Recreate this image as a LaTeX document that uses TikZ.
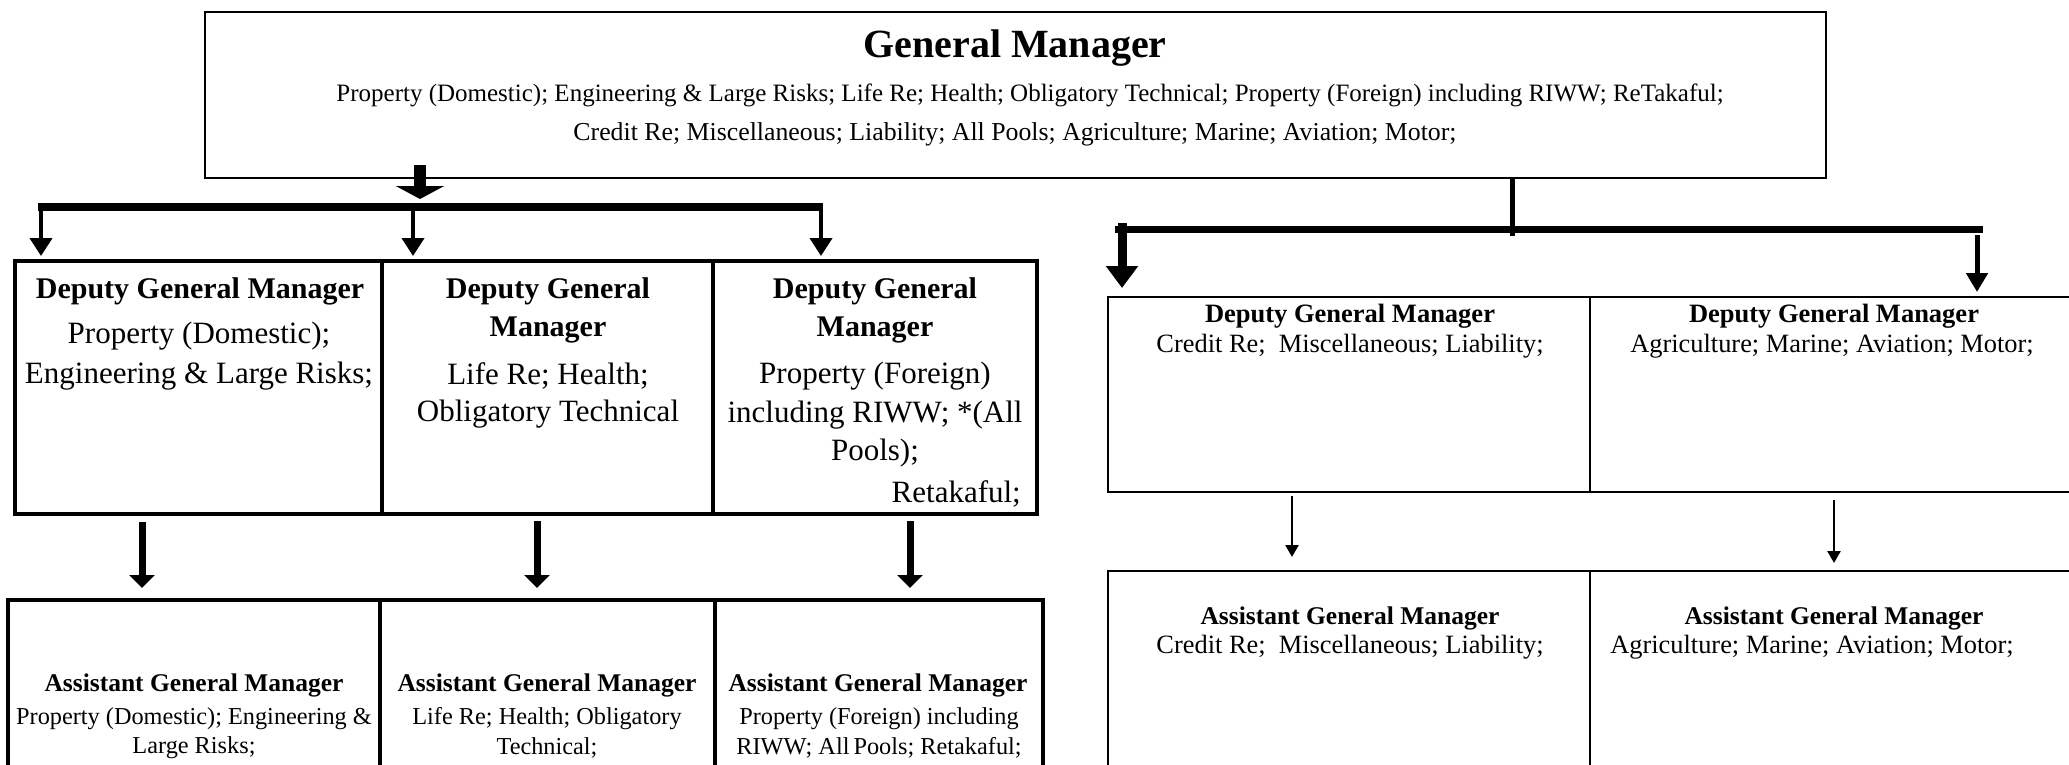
\documentclass[tikz,border=0pt]{standalone}
\usepackage{fontspec}
\setmainfont{Liberation Serif}
\usetikzlibrary{arrows.meta}
\begin{document}
\begin{tikzpicture}[x=1pt,y=-1pt,
  lbox/.style={draw,rectangle,inner sep=0pt,outer sep=0pt,anchor=north west,line width=3.5pt},
  rbox/.style={draw,rectangle,inner sep=0pt,outer sep=0pt,anchor=north west,line width=2.5pt},
  txt/.style={inner sep=0pt,anchor=center},
  gmtitle/.style={txt,font=\fontsize{40}{48}\selectfont\bfseries},
  gmline/.style={txt,font=\fontsize{25}{30}\selectfont},
  lhead/.style={txt,font=\fontsize{30}{36}\selectfont\bfseries},
  lbody/.style={txt,font=\fontsize{31}{36}\selectfont},
  ahead/.style={txt,font=\fontsize{25.5}{30}\selectfont\bfseries},
  abody/.style={txt,font=\fontsize{24.3}{28}\selectfont},
  rhead/.style={txt,font=\fontsize{26.5}{30}\selectfont\bfseries},
  rbody/.style={txt,font=\fontsize{26.4}{30}\selectfont},
  gmarrow/.style={line width=12pt,-{Triangle[width=48pt,length=13pt]}},
  larrow/.style={line width=4pt,-{Triangle[width=22pt,length=18pt]}},
  marrow/.style={line width=7pt,-{Triangle[width=25pt,length=13pt]}},
  rarrowL/.style={line width=9pt,-{Triangle[width=31pt,length=22pt]}},
  rarrowR/.style={line width=5pt,-{Triangle[width=21pt,length=19pt]}},
  sarrow/.style={line width=2.5pt,-{Triangle[width=13pt,length=12pt]}}
]
\useasboundingbox (0,0) rectangle (2069,765);
\clip (0,0) rectangle (2069,765);
\fill[white] (0,0) rectangle (2069,765);

% ---------- boxes ----------
\node[rbox,minimum width=1621pt,minimum height=166pt] (gm) at (205,12) {};

\node[lbox,minimum width=367pt,minimum height=253pt] (d1) at (15,261) {};
\node[lbox,minimum width=331pt,minimum height=253pt] (d2) at (382,261) {};
\node[lbox,minimum width=324pt,minimum height=253pt] (d3) at (713,261) {};

\node[lbox,minimum width=372pt,minimum height=220pt] (a1) at (8,600) {};
\node[lbox,minimum width=335pt,minimum height=220pt] (a2) at (380,600) {};
\node[lbox,minimum width=328pt,minimum height=220pt] (a3) at (715,600) {};

\node[rbox,minimum width=482pt,minimum height=195pt] (r1) at (1108,297) {};
\node[rbox,minimum width=520pt,minimum height=195pt] (r2) at (1590,297) {};

\node[rbox,minimum width=482pt,minimum height=250pt] (s1) at (1108,571) {};
\node[rbox,minimum width=520pt,minimum height=250pt] (s2) at (1590,571) {};

% ---------- texts ----------
\node[gmtitle] (gmt) at (1015,48) {General Manager};
\node[gmline] (gml1) at (1030,95) {Property (Domestic); Engineering \& Large Risks; Life Re; Health; Obligatory Technical; Property (Foreign) including RIWW; ReTakaful;};
\node[gmline,font=\fontsize{25.8}{30}\selectfont] (gml2) at (1015,134) {Credit Re; Miscellaneous; Liability; All Pools; Agriculture; Marine; Aviation; Motor;};

\node[lhead] (d1h) at (200,291) {Deputy General Manager};
\node[lbody] (d1b1) at (199,336) {Property (Domestic);};
\node[lbody] (d1b2) at (199,376) {Engineering \& Large Risks;};

\node[lhead] (d2h1) at (548,291) {Deputy General};
\node[lhead] (d2h2) at (548,330) {Manager};
\node[lbody] (d2b1) at (548,376) {Life Re; Health;};
\node[lbody] (d2b2) at (548,414) {Obligatory Technical};

\node[lhead] (d3h1) at (875,291) {Deputy General};
\node[lhead] (d3h2) at (875,330) {Manager};
\node[lbody] (d3b1) at (875,376) {Property (Foreign)};
\node[lbody] (d3b2) at (875,415) {including RIWW; *(All};
\node[lbody] (d3b3) at (875,453) {Pools);};
\node[lbody,anchor=east] (d3b4) at (1021,494) {Retakaful;};

\node[ahead] (a1h) at (194,685) {Assistant General Manager};
\node[abody] (a1b1) at (194,719) {Property (Domestic); Engineering \&};
\node[abody] (a1b2) at (194,748) {Large Risks;};

\node[ahead] (a2h) at (547,685) {Assistant General Manager};
\node[abody] (a2b1) at (547,719) {Life Re; Health; Obligatory};
\node[abody] (a2b2) at (547,748) {Technical;};

\node[ahead] (a3h) at (878,685) {Assistant General Manager};
\node[abody] (a3b1) at (879,719) {Property (Foreign) including};
\node[abody] (a3b2) at (879,748) {RIWW; All\,Pools; Retakaful;};

\node[rhead] (r1h) at (1350,316) {Deputy General Manager};
\node[rbody] (r1b) at (1350,346) {Credit Re;\ \ Miscellaneous; Liability;};
\node[rhead] (r2h) at (1834,316) {Deputy General Manager};
\node[rbody] (r2b) at (1832,346) {Agriculture; Marine; Aviation; Motor;};

\node[ahead] (s1h) at (1350,618) {Assistant General Manager};
\node[rbody] (s1b) at (1350,647) {Credit Re;\ \ Miscellaneous; Liability;};
\node[ahead] (s2h) at (1834,618) {Assistant General Manager};
\node[rbody] (s2b) at (1812,647) {Agriculture; Marine; Aviation; Motor;};

% ---------- left connectors ----------
\coordinate (gmL) at (420,165);
\coordinate (barLs) at (38,207);
\coordinate (barLe) at (823,207);
\draw[gmarrow] (gmL) -- ([yshift=8pt]gmL |- barLs);
\draw[line width=8pt] (barLs) -- (barLe);
\coordinate (t1) at (41,256);
\coordinate (t2) at (413,256);
\coordinate (t3) at (821,256);
\draw[larrow] (t1 |- barLs) -- (t1);
\draw[larrow] (t2 |- barLs) -- (t2);
\draw[larrow] (t3 |- barLs) -- (t3);

\coordinate (m1) at (142,588);
\coordinate (m2) at (537,588);
\coordinate (m3) at (910,588);
\draw[marrow] ([yshift=-8pt]m1 |- d1.south) -- (m1);
\draw[marrow] ([yshift=-7pt]m2 |- d2.south) -- (m2);
\draw[marrow] ([yshift=-7pt]m3 |- d3.south) -- (m3);

% ---------- right connectors ----------
\coordinate (gmR) at (1512,236);
\draw[line width=5pt] (gmR |- gm.south) -- (gmR);
\coordinate (barRs) at (1115,229.5);
\coordinate (barRe) at (1983,229.5);
\draw[line width=7pt] (barRs) -- (barRe);
\coordinate (rs1) at (1122,223);
\coordinate (rt1) at (1122,288);
\draw[rarrowL] (rs1) -- (rt1);
\coordinate (rs2) at (1977,235);
\coordinate (rt2) at (1977,292);
\draw[rarrowR] (rs2) -- (rt2);

\coordinate (st1) at (1292,557);
\coordinate (st2) at (1834,563);
\draw[sarrow] ([yshift=-4pt]st1 |- r1.south) -- (st1);
\draw[sarrow] ([yshift=-8pt]st2 |- r2.south) -- (st2);
\end{tikzpicture}
\end{document}
